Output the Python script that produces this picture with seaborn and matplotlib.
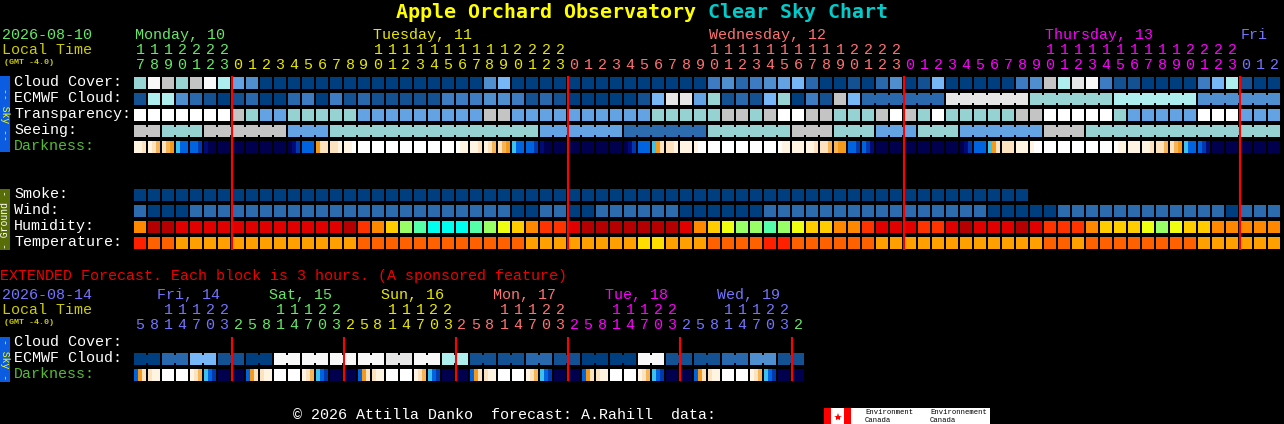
import numpy as np
import matplotlib
matplotlib.use("Agg")
import matplotlib.pyplot as plt
from matplotlib.patches import Rectangle
import seaborn as sns

sns.set_theme(style="dark", rc={"figure.facecolor": "black", "axes.facecolor": "black",
                                 "savefig.facecolor": "black"})
plt.rcParams["font.family"] = ["Liberation Mono", "DejaVu Sans Mono"]

# -----------------------------
# 1. Colour keys (level index -> colour)
# -----------------------------
CLOUD_PAL = ["#003f7f", "#135193", "#2a68ae", "#3d7bc2", "#4f8fd0", "#63a3e3",
             "#77b7f7", "#98d4d4", "#aeeeee", "#c4c4c4", "#e6e6e6", "#f8f8f8"]
TRANSP_PAL = ["#ffffff", "#c4c4c4", "#96d2d2", "#63a3e3"]
SEEING_PAL = ["#c4c4c4", "#96d2d2", "#63a3e3", "#2c6cae"]
DARK_PAL = ["#ffffff", "#fff3e2", "#fde2c0", "#f7b457", "#f39a1a",
            "#3cc0ee", "#0064e0", "#0038b0", "#000a78", "#00004e"]
SMOKE_PAL = ["#003f7f"]
WIND_PAL = ["#003f7f", "#2c6cae"]
HUMID_PAL = ["#00ffee", "#55ffaa", "#99ff66", "#eeff11", "#ffcc00",
             "#ff8800", "#ff3300", "#e00000", "#b40000"]
TEMP_PAL = ["#ffdd00", "#ffa000", "#ff6000", "#ff2000"]

# -----------------------------
# 2. Hourly forecast (one value per hour, Mon 17h .. Fri 2h)
# -----------------------------
top_days = ["Monday, 10", "Tuesday, 11", "Wednesday, 12", "Thursday, 13", "Fri"]
top_day_colors = ["#66e866", "#e8e800", "#ff7272", "#ff00ff", "#7474ff"]
top_hours = [[17, 18, 19, 20, 21, 22, 23], list(range(24)), list(range(24)),
             list(range(24)), [0, 1, 2]]

cloud_cover = [7, 11, 9, 7, 9, 11, 8,
               5, 4, 0, 0, 0, 0, 0, 0, 0, 0, 0, 0, 0, 0, 0, 0, 0, 0, 4, 6, 0, 0, 0, 0,
               0, 0, 0, 0, 0, 0, 0, 0, 0, 0, 3, 4, 2, 3, 4, 5, 6, 2, 0, 0, 1, 0, 2, 4,
               0, 1, 6, 0, 0, 0, 0, 0, 3, 4, 9, 8, 10, 11, 3, 1, 1, 0, 0, 0, 0, 3, 6, 8,
               1, 0, 0]
ecmwf_cloud = [1, 8, 8, 4, 2, 1, 0,
               1, 2, 0, 0, 2, 3, 0, 3, 1, 2, 1, 1, 1, 1, 1, 3, 3, 3, 4, 4, 3, 1, 2, 1,
               0, 0, 0, 0, 0, 1, 6, 10, 10, 5, 7, 1, 2, 1, 6, 7, 0, 3, 1, 9, 6, 2, 2, 2,
               2, 2, 2, 10, 10, 10, 10, 10, 10, 7, 7, 7, 7, 7, 7, 8, 8, 8, 8, 8, 8, 4, 4, 4,
               4, 4, 4]
transparency = [0, 0, 0, 0, 0, 0, 0,
                1, 2, 3, 3, 2, 2, 2, 2, 2, 3, 3, 3, 3, 3, 3, 3, 3, 3, 1, 1, 3, 3, 3, 3,
                3, 3, 3, 3, 3, 3, 2, 2, 2, 2, 2, 1, 1, 2, 1, 0, 0, 1, 1, 2, 2, 2, 1, 0,
                1, 2, 0, 2, 2, 2, 2, 2, 1, 1, 0, 0, 0, 0, 0, 2, 3, 3, 3, 3, 3, 0, 0, 0,
                3, 3, 3]
seeing = [0, 0, 1, 1, 1, 0, 0,
          0, 0, 0, 0, 2, 2, 2, 1, 1, 1, 1, 1, 1, 1, 1, 1, 1, 1, 1, 1, 1, 1, 2, 2,
          2, 2, 2, 2, 3, 3, 3, 3, 3, 3, 1, 1, 1, 1, 1, 1, 0, 0, 0, 1, 1, 1, 2, 2,
          2, 1, 1, 1, 2, 2, 2, 2, 2, 2, 0, 0, 0, 1, 1, 1, 1, 1, 1, 1, 1, 1, 1, 1,
          1, 1, 1]
# darkness: colour of left / middle / right third of each hour block
darkness = ["112", "123", "234", "566", "667", "899", "999",
            "999", "999", "999", "999", "987", "666", "422", "221", "110", "000", "000", "000",
            "000", "000", "000", "000", "011", "112", "123", "234", "566", "667", "899", "999",
            "999", "999", "999", "999", "987", "666", "542", "221", "111", "100", "000", "000",
            "000", "000", "000", "011", "111", "112", "223", "344", "667", "678", "999", "999",
            "999", "999", "999", "999", "987", "666", "542", "222", "111", "100", "000", "000",
            "000", "000", "000", "011", "111", "112", "223", "234", "566", "678", "999", "999",
            "999", "999", "999"]
smoke = [0] * 64
wind = [1, 0, 0, 0, 1, 1, 1,
        1, 1, 1, 1, 1, 1, 1, 1, 1, 1, 1, 1, 1, 1, 1, 1, 1, 1, 1, 1, 0, 0, 1, 1,
        0, 0, 1, 1, 1, 1, 1, 1, 0, 0, 0, 0, 0, 0, 1, 1, 1, 1, 1, 1, 1, 1, 1, 1,
        1, 1, 1, 1, 1, 1, 0, 0, 0, 0, 0, 1, 1, 1, 1, 1, 1, 1, 1, 1, 1, 1, 1, 0,
        1, 1, 1]
humidity = [5, 8, 8, 7, 7, 7, 7,
            7, 7, 7, 7, 7, 7, 7, 7, 8, 6, 5, 4, 2, 1, 0, 0, 0, 1, 2, 3, 4, 5, 6, 6,
            7, 8, 8, 8, 8, 8, 8, 8, 7, 5, 4, 3, 2, 2, 1, 2, 3, 4, 4, 5, 5, 6, 7, 7,
            7, 6, 6, 7, 8, 7, 7, 7, 8, 7, 6, 6, 6, 5, 4, 4, 4, 3, 2, 3, 4, 4, 5, 5,
            5, 5, 5]
temperature = [3, 2, 2, 1, 1, 1, 1,
               1, 1, 1, 1, 1, 1, 1, 1, 1, 2, 2, 2, 2, 2, 2, 2, 2, 2, 2, 2, 2, 1, 1, 1,
               1, 1, 1, 1, 1, 0, 0, 1, 1, 1, 2, 2, 2, 2, 3, 3, 2, 2, 2, 2, 2, 2, 1, 1,
               1, 1, 1, 1, 1, 1, 1, 1, 1, 1, 2, 2, 1, 2, 2, 2, 2, 2, 2, 2, 2, 1, 1, 1,
               1, 1, 1]

# -----------------------------
# 3. Extended forecast (one value per 3-hour block, Fri 5h .. Thu 2h)
# -----------------------------
ext_days = ["Fri, 14", "Sat, 15", "Sun, 16", "Mon, 17", "Tue, 18", "Wed, 19", ""]
ext_day_colors = ["#7474ff", "#66e866", "#e8e800", "#ff7272", "#ff00ff", "#7474ff", "#66e866"]
ext_hours = [[5, 8, 11, 14, 17, 20, 23]] + [[2, 5, 8, 11, 14, 17, 20, 23]] * 5 + [[2]]

ext_ecmwf = [0, 0, 2, 2, 6, 6, 1, 1, 0, 0, 11, 11, 11, 11, 11, 11, 11, 11, 10, 10,
             11, 11, 8, 8, 1, 1, 1, 1, 2, 2, 1, 1, 0, 0, 0, 0, 11, 11, 1, 1,
             1, 1, 2, 2, 4, 4, 1, 1]
ext_darkness = ["642", "211", "000", "000", "123", "567", "999",
                "999", "642", "211", "000", "000", "123", "567", "999",
                "999", "642", "211", "000", "000", "123", "567", "999",
                "999", "642", "211", "000", "000", "123", "567", "999",
                "999", "642", "211", "000", "000", "123", "567", "999",
                "999", "642", "211", "000", "000", "123", "567", "999",
                "999"]

# -----------------------------
# 4. Canvas: x in hour-block units, y in pixel rows
# -----------------------------
W, H = 1284, 424
X0, PITCH, CELL = 134, 14, 12
CW = CELL / PITCH

fig = plt.figure(figsize=(W / 100, H / 100), dpi=100)
ax = fig.add_axes([0, 0, 1, 1])
ax.set_xlim(-X0 / PITCH, (W - X0) / PITCH)
ax.set_ylim(H, 0)
ax.axis("off")


def px(x):
    return (x - X0) / PITCH


def txt(x, y, s, color, size=10.8, **kw):
    ax.text(px(x), y, s, color=color, fontsize=size, va="center", ha="left", **kw)


def draw_row(vals, pal, top, linked=None):
    idx = np.arange(len(vals))
    ax.bar(idx, CELL, width=CW, bottom=top, align="edge",
           color=[pal[v] for v in vals], linewidth=0)
    if linked is None:
        return
    for i in range(len(vals) - 1):
        if linked(i, vals):
            ax.bar(i + CW, CELL - 4, width=1 - CW, bottom=top + 2, align="edge",
                   color=pal[vals[i]], linewidth=0)


def draw_dark(codes, top):
    idx = np.arange(len(codes))
    for k in range(3):
        ax.bar(idx + k * CW / 3, CELL, width=CW / 3, bottom=top, align="edge",
               color=[DARK_PAL[int(c[k])] for c in codes], linewidth=0)


def hour_labels(hours, colors, y_tens, y_units):
    i = 0
    for hrs, col in zip(hours, colors):
        for h in hrs:
            if h >= 10:
                ax.text(i + CW / 2, y_tens, str(h // 10), color=col, fontsize=10.8,
                        ha="center", va="center")
            ax.text(i + CW / 2, y_units, str(h % 10), color=col, fontsize=10.8,
                    ha="center", va="center")
            i += 1


def boundaries(hours):
    return np.cumsum([len(h) for h in hours])[:-1]


# -----------------------------
# 5. Title and header
# -----------------------------
txt(396, 12, "Apple Orchard Observatory", "#ffff00", size=14.4,
    family="DejaVu Sans Mono", weight="bold")
txt(708, 12, "Clear Sky Chart", "#00cccc", size=14.4,
    family="DejaVu Sans Mono", weight="bold")

txt(2, 35, "2026-08-10", "#66e866")
txt(2, 50, "Local Time", "#cccc00")
txt(4, 62, "(GMT -4.0)", "#cccc00", size=6, weight="bold")

start = 0
for name, hrs, col in zip(top_days, top_hours, top_day_colors):
    pos = start + (hrs.index(10) if 10 in hrs else 0)
    ax.text(pos + 1 / PITCH, 35, name, color=col, fontsize=10.8, va="center", ha="left")
    start += len(hrs)
hour_labels(top_hours, top_day_colors, 50, 65)

# -----------------------------
# 6. Sky and ground blocks
# -----------------------------
sky_rows = ["Cloud Cover:", "ECMWF Cloud:", "Transparency:", "Seeing:", "Darkness:"]
for k, lab in enumerate(sky_rows):
    txt(14, 82 + 16 * k, lab, "#55bb33" if lab == "Darkness:" else "white")
ground_rows = ["Smoke:", "Wind:", "Humidity:", "Temperature:"]
for k, lab in enumerate(ground_rows):
    txt(14, 194 + 16 * k, lab, "white")

same = lambda i, v: v[i] == v[i + 1]
draw_row(cloud_cover, CLOUD_PAL, 77)
draw_row(ecmwf_cloud, CLOUD_PAL, 93, linked=lambda i, v: i >= 52 and same(i, v))
draw_row(transparency, TRANSP_PAL, 109)
draw_row(seeing, SEEING_PAL, 125, linked=same)
draw_dark(darkness, 141)

draw_row(smoke, SMOKE_PAL, 189)
draw_row(wind, WIND_PAL, 205)
draw_row(humidity, HUMID_PAL, 221)
draw_row(temperature, TEMP_PAL, 237)

ax.vlines(boundaries(top_hours), 76, 250, color="#ff0000", lw=1.5)

ax.add_patch(Rectangle((px(0), 76), 10 / PITCH, 76, color="#0b5ce0", lw=0))
ax.text(px(5), 114, "-- Sky --", color="#ffff00", fontsize=7, rotation=-90,
        ha="center", va="center")
ax.add_patch(Rectangle((px(0), 189), 10 / PITCH, 61, color="#586c08", lw=0))
ax.text(px(5), 219.5, "- Ground -", color="white", fontsize=7, rotation=90,
        ha="center", va="center")

# -----------------------------
# 7. Extended forecast
# -----------------------------
txt(0, 276, "EXTENDED Forecast. Each block is 3 hours. (A sponsored feature)", "#ee0000")
txt(2, 295, "2026-08-14", "#7474ff")
txt(2, 310, "Local Time", "#cccc00")
txt(4, 322, "(GMT -4.0)", "#cccc00", size=6, weight="bold")

start = 0
for name, hrs, col in zip(ext_days, ext_hours, ext_day_colors):
    day0 = start - (8 - len(hrs)) if len(hrs) < 8 and name else start
    if name:
        ax.text(day0 + 2 + 9 / PITCH, 295, name, color=col, fontsize=10.8,
                va="center", ha="left")
    start += len(hrs)
hour_labels(ext_hours, ext_day_colors, 310, 325)

for k, lab in enumerate(["Cloud Cover:", "ECMWF Cloud:", "Darkness:"]):
    txt(14, 342 + 16 * k, lab, "#55bb33" if lab == "Darkness:" else "white")

draw_row(ext_ecmwf, CLOUD_PAL, 353, linked=lambda i, v: i % 2 == 0)
draw_dark(ext_darkness, 369)
ax.vlines(boundaries(ext_hours), 337, 381, color="#ff0000", lw=1.5)

ax.add_patch(Rectangle((px(0), 337), 10 / PITCH, 45, color="#0b5ce0", lw=0))
ax.text(px(5), 359.5, "- Sky -", color="#ffff00", fontsize=7, rotation=-90,
        ha="center", va="center")

# -----------------------------
# 8. Footer
# -----------------------------
txt(293, 415, "\u00a9 2026 Attilla Danko  forecast: A.Rahill  data:", "white")
ax.add_patch(Rectangle((px(824), 408), 27 / PITCH, 16, color="#ff0000", lw=0))
ax.add_patch(Rectangle((px(831), 408), 13 / PITCH, 16, color="white", lw=0))
ax.plot(px(837.5), 416.5, marker="*", ms=6, color="#ff0000", mew=0)
ax.add_patch(Rectangle((px(851), 408), 139 / PITCH, 16, color="white", lw=0))
for xx, word in [(865, "Environment"), (930, "Environnement")]:
    txt(xx, 413, word, "black", size=5.2)
    txt(xx, 420.5, "Canada", "black", size=5.2)

fig.savefig("out.png", dpi=100, facecolor="black")
